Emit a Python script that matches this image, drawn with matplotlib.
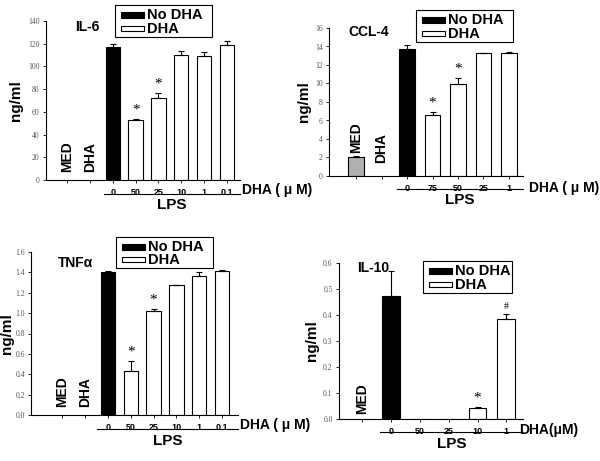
import matplotlib.pyplot as plt
import matplotlib.transforms as mtransforms
from matplotlib.patches import Rectangle

plt.rcParams['font.family'] = ['Liberation Sans', 'DejaVu Sans']

# IL-6
il6_cats = ["MED", "DHA", "0", "50", "25", "10", "1", "0.1"]
il6_vals = [0, 0, 117, 52.5, 72, 110.5, 109, 118.5]
il6_err = [0, 0, 3, 1, 5, 3, 4, 3.5]
il6_star = ["", "", "", "*", "*", "", "", ""]

# CCL-4
ccl4_cats = ["MED", "DHA", "0", "75", "50", "25", "1"]
ccl4_vals = [2.1, 0, 13.7, 6.6, 9.9, 13.25, 13.35]
ccl4_err = [0.08, 0, 0.5, 0.3, 0.7, 0.1, 0.1]
ccl4_star = ["", "", "", "*", "*", "", ""]

# TNFa
tnf_cats = ["MED", "DHA", "0", "50", "25", "10", "1", "0.1"]
tnf_vals = [0, 0, 1.40, 0.43, 1.025, 1.275, 1.365, 1.415]
tnf_err = [0, 0, 0.012, 0.1, 0.015, 0.005, 0.04, 0.012]
tnf_star = ["", "", "", "*", "*", "", "", ""]

# IL-10
il10_cats = ["MED", "0", "50", "25", "10", "1"]
il10_vals = [0, 0.475, 0, 0, 0.043, 0.385]
il10_err = [0, 0.095, 0, 0, 0.004, 0.02]
il10_star = ["", "", "", "", "*", "#"]

W, H = 600, 461
fig = plt.figure(figsize=(6, 4.61), dpi=100)


def px_axes(left, right, top, bottom):
    return fig.add_axes([left / W, 1 - bottom / H, (right - left) / W, (bottom - top) / H])


def panel(ax, cats, vals, errs, stars, kinds, ymax, ystep, fmt, xlim, name, name_xy,
          lps_start, dha_lbl, dha_xy, leg_box, med_lbls, ytxt):
    x = list(range(len(cats)))
    for i in x:
        k = kinds[i]
        if k == "none":
            continue
        fc = {"black": "black", "white": "white", "gray": "#b0b0b0"}[k]
        ax.bar(i, vals[i], width=0.62, color=fc, edgecolor="black", linewidth=0.8, zorder=2)
        if errs[i] > 0:
            ax.errorbar(i, vals[i], yerr=[[0], [errs[i]]], fmt="none", ecolor="black",
                        elinewidth=0.8, capsize=2.5, capthick=0.8, zorder=3)
        if stars[i]:
            ax.text(i, vals[i] + errs[i] + ymax * 0.015, stars[i], ha="center", va="bottom",
                    fontsize=11 if stars[i] == "*" else 7, family="Liberation Serif")
    ax.set_xlim(*xlim)
    ax.set_ylim(0, ymax)
    yt = [ystep * j for j in range(int(round(ymax / ystep)) + 1)]
    ax.set_yticks(yt)
    ax.set_yticklabels([fmt.format(v) for v in yt], family="Liberation Serif",
                       fontsize=5.5, color="#555555")
    ax.set_xticks(x)
    ax.set_xticklabels(["" if c in ("MED", "DHA") else c for c in cats],
                       fontsize=6.5, fontweight="bold")
    ax.tick_params(axis="y", length=2.5, width=0.6, pad=2)
    ax.tick_params(axis="x", length=2.5, width=0.6, pad=3)
    for s in ("top", "right"):
        ax.spines[s].set_visible(False)
    for s in ("left", "bottom"):
        ax.spines[s].set_linewidth(0.8)
    ax.set_ylabel("ng/ml", fontsize=11, fontweight="bold", labelpad=ytxt)

    ax.text(name_xy[0], name_xy[1], name, transform=ax.transAxes, fontsize=10,
            fontweight="bold", ha="left", va="center")
    for i, lbl, yy in med_lbls:
        ax.text(i, yy, lbl, rotation=90, fontsize=10, fontweight="bold",
                ha="center", va="bottom")

    tr = mtransforms.blended_transform_factory(ax.transData, ax.transAxes)
    ax.plot([lps_start, xlim[1]], [-0.085, -0.085], color="black", lw=0.8,
            transform=tr, clip_on=False)
    mid = (lps_start + xlim[1]) / 2
    ax.text(mid, -0.115, "LPS", transform=tr, fontsize=11, fontweight="bold",
            ha="center", va="top")
    ax.text(dha_xy[0], dha_xy[1], dha_lbl, transform=ax.transAxes, fontsize=10,
            fontweight="bold", ha="left", va="center")

    # legend box drawn in figure pixels
    l, r, t, b = leg_box
    fig.patches.append(Rectangle((l / W, 1 - b / H), (r - l) / W, (b - t) / H,
                                 transform=fig.transFigure, fill=False,
                                 edgecolor="black", linewidth=0.8))
    sw = 23
    ya = t + (b - t) * 0.32
    yb = t + (b - t) * 0.74
    fig.patches.append(Rectangle(((l + 6) / W, 1 - (ya + 3) / H), sw / W, 6 / H,
                                 transform=fig.transFigure, facecolor="black",
                                 edgecolor="black", linewidth=0.8))
    fig.patches.append(Rectangle(((l + 6) / W, 1 - (yb + 2.5) / H), sw / W, 5 / H,
                                 transform=fig.transFigure, facecolor="white",
                                 edgecolor="black", linewidth=0.8))
    fig.text((l + 6 + sw + 3) / W, 1 - ya / H, "No DHA", fontsize=10.5,
             fontweight="bold", va="center")
    fig.text((l + 6 + sw + 3) / W, 1 - yb / H, "DHA", fontsize=10.5,
             fontweight="bold", va="center")


ax1 = px_axes(46, 240, 21, 180)
panel(ax1, il6_cats, il6_vals, il6_err, il6_star,
      ["none", "none", "black", "white", "white", "white", "white", "white"],
      140, 20, "{:.0f}", (-0.92, 7.57), "IL-6", (0.15, 0.96), 1.6,
      "DHA ( μ M)", (1.01, -0.06), (115, 212, 5, 37),
      [(0, "MED", 7), (1, "DHA", 7)], 4)

ax2 = px_axes(329, 523, 28, 176)
panel(ax2, ccl4_cats, ccl4_vals, ccl4_err, ccl4_star,
      ["gray", "none", "black", "white", "white", "white", "white"],
      16, 2, "{:.0f}", (-1.06, 6.55), "CCL-4", (0.10, 0.97), 1.6,
      "DHA ( μ M)", (1.03, -0.08), (416, 513, 10, 42),
      [(0, "MED", 2.5), (1, "DHA", 1.4)], 3)

ax3 = px_axes(31, 238, 252, 415)
panel(ax3, tnf_cats, tnf_vals, tnf_err, tnf_star,
      ["none", "none", "black", "white", "white", "white", "white", "white"],
      1.6, 0.2, "{:.1f}", (-1.35, 7.69), "TNFα", (0.13, 0.93), 1.55,
      "DHA ( μ M)", (1.01, -0.06), (116, 213, 237, 268),
      [(0, "MED", 0.08), (1, "DHA", 0.08)], 1)

ax4 = px_axes(339, 523, 263, 419)
panel(ax4, il10_cats, il10_vals, il10_err, il10_star,
      ["none", "black", "white", "white", "white", "white"],
      0.6, 0.1, "{:.1f}", (-0.81, 5.58), "IL-10", (0.10, 0.97), 0.6,
      "DHA(μM)", (0.98, -0.07), (423, 512, 261, 293),
      [(0, "MED", 0.02)], 3)

fig.savefig("out.png", dpi=100)
